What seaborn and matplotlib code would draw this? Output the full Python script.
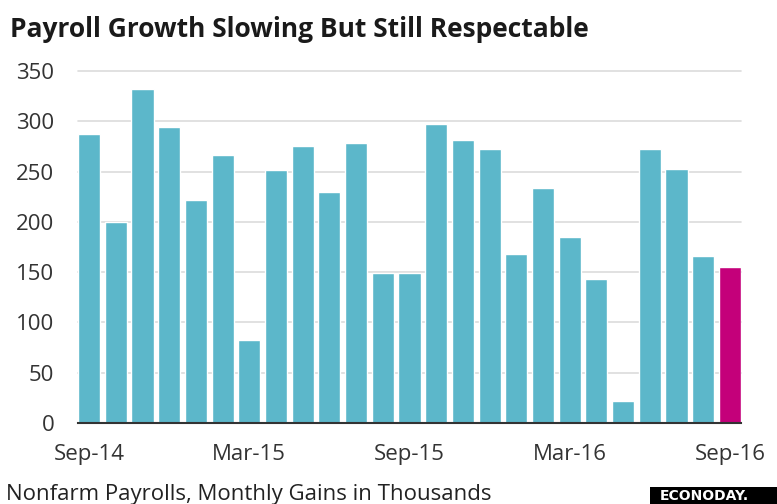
import matplotlib
matplotlib.use("Agg")
import matplotlib.pyplot as plt
import matplotlib.patches as mpatches
import seaborn as sns
import pandas as pd

months = ["Sep-14", "Oct-14", "Nov-14", "Dec-14", "Jan-15", "Feb-15", "Mar-15",
          "Apr-15", "May-15", "Jun-15", "Jul-15", "Aug-15", "Sep-15", "Oct-15",
          "Nov-15", "Dec-15", "Jan-16", "Feb-16", "Mar-16", "Apr-16", "May-16",
          "Jun-16", "Jul-16", "Aug-16", "Sep-16"]
gains = [287, 200, 332, 294, 222, 266, 83, 252, 275, 230, 278, 149, 149, 297,
         281, 272, 168, 234, 185, 143, 22, 272, 253, 166, 155]
tick_months = ["Sep-14", "Mar-15", "Sep-15", "Mar-16", "Sep-16"]
yticks = [0, 50, 100, 150, 200, 250, 300, 350]

teal = "#5cb7ca"
magenta = "#c4007a"
colors = [teal] * (len(months) - 1) + [magenta]

df = pd.DataFrame({"month": months, "gain": gains})

sns.set_style("white")
plt.rcParams["font.family"] = ["Open Sans", "DejaVu Sans"]

fig = plt.figure(figsize=(7.77, 5.04), dpi=100)
ax = fig.add_axes([78 / 777, 1 - 423 / 504, (741 - 78) / 777, (423 - 71) / 504])

w = 0.83
sns.barplot(data=df, x="month", y="gain", hue="month", palette=colors,
            legend=False, width=w, saturation=1, ax=ax, zorder=3)

ax.set_xlim(-w / 2, len(months) - 1 + w / 2)
ax.set_ylim(0, 350)
ax.set_yticks(yticks)
ax.set_yticklabels([str(v) for v in yticks], fontsize=16, color="#333333")
for v in yticks[1:]:
    ax.axhline(v, color="#dcdcdc", lw=1.2, zorder=1, clip_on=False)

# labels sit under the bar, tick marks at the bar's left edge
idx = [months.index(m) for m in tick_months]
ax.set_xticks(idx)
ax.set_xticklabels(tick_months, fontsize=16, color="#333333")
ax.set_xticks([i - w / 2 for i in idx], minor=True)
ax.tick_params(axis="x", which="major", length=0, pad=15)
ax.tick_params(axis="x", which="minor", length=6, width=1.3, color="#333333")
ax.tick_params(axis="y", length=0, pad=17)
ax.set_xlabel("")
ax.set_ylabel("")

for s in ["top", "right", "left"]:
    ax.spines[s].set_visible(False)
ax.spines["bottom"].set_color("#333333")
ax.spines["bottom"].set_linewidth(1.5)
ax.spines["bottom"].set_zorder(4)

fig.text(10 / 777, 1 - 37 / 504, "Payroll Growth Slowing But Still Respectable",
         fontsize=19, fontweight="bold", color="#1a1a1a", va="baseline", ha="left")
fig.text(6 / 777, 1 - 500 / 504, "Nonfarm Payrolls, Monthly Gains in Thousands",
         fontsize=16, color="#222222", va="baseline", ha="left")

fig.patches.append(mpatches.Rectangle((650 / 777, 0), 127 / 777, 17 / 504,
                                      transform=fig.transFigure, fc="black",
                                      ec="none"))
fig.text(660 / 777, 1 - 500 / 504, "ECONODAY.", fontsize=10, fontweight="bold",
         color="white", va="baseline", ha="left", family="DejaVu Sans")

fig.savefig("out.png", dpi=100)
